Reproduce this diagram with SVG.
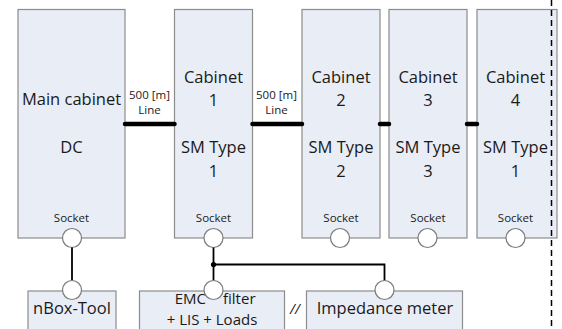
<svg xmlns="http://www.w3.org/2000/svg" width="562" height="329" viewBox="0 0 562 329">
  <style>
    .box { fill: #e9edf6; stroke: #8c8c8c; stroke-width: 1.2; }
    .sock { fill: #ffffff; stroke: #7a7a7a; stroke-width: 1.2; }
    .t { font-family: "Open Sans", "Liberation Sans", sans-serif; fill: #1a1a1a; text-anchor: middle; }
    .big { font-size: 16.5px; }
    .mid { font-size: 15px; }
    .sm { font-size: 11.5px; }
    .bus { stroke: #000; stroke-width: 4.5; stroke-linecap: round; fill: none; }
    .wire { stroke: #000; stroke-width: 1.8; fill: none; }
  </style>

  <rect width="562" height="329" fill="#ffffff"/>

  <!-- cabinets -->
  <g id="main-cabinet">
    <rect class="box" x="18" y="9.5" width="107" height="228.5"/>
    <text class="t big" x="71.5" y="104.5">Main cabinet</text>
    <text class="t big" x="71.5" y="153">DC</text>
    <text class="t sm" x="71.5" y="222">Socket</text>
    <circle class="sock" cx="72" cy="238" r="9.5"/>
  </g>

  <g id="cabinet-1">
    <rect class="box" x="174.5" y="9.5" width="78" height="228.5"/>
    <text class="t big" x="213.5" y="83">Cabinet</text>
    <text class="t big" x="213.5" y="106">1</text>
    <text class="t big" x="213.5" y="153">SM Type</text>
    <text class="t big" x="213.5" y="176.5">1</text>
    <text class="t sm" x="213.5" y="222">Socket</text>
    <circle class="sock" cx="213.5" cy="238" r="9.5"/>
  </g>

  <g id="cabinet-2">
    <rect class="box" x="302" y="9.5" width="78" height="228.5"/>
    <text class="t big" x="341" y="83">Cabinet</text>
    <text class="t big" x="341" y="106">2</text>
    <text class="t big" x="341" y="153">SM Type</text>
    <text class="t big" x="341" y="176.5">2</text>
    <text class="t sm" x="341" y="222">Socket</text>
    <circle class="sock" cx="340" cy="238" r="9.5"/>
  </g>

  <g id="cabinet-3">
    <rect class="box" x="389" y="9.5" width="78" height="228.5"/>
    <text class="t big" x="428" y="83">Cabinet</text>
    <text class="t big" x="428" y="106">3</text>
    <text class="t big" x="428" y="153">SM Type</text>
    <text class="t big" x="428" y="176.5">3</text>
    <text class="t sm" x="428" y="222">Socket</text>
    <circle class="sock" cx="427.5" cy="238" r="9.5"/>
  </g>

  <g id="cabinet-4">
    <rect class="box" x="477" y="9.5" width="80" height="228.5"/>
    <text class="t big" x="515.5" y="83">Cabinet</text>
    <text class="t big" x="515.5" y="106">4</text>
    <text class="t big" x="515.5" y="153">SM Type</text>
    <text class="t big" x="515.5" y="176.5">1</text>
    <text class="t sm" x="515.5" y="222">Socket</text>
    <circle class="sock" cx="515.5" cy="238" r="9.5"/>
  </g>

  <!-- cut-off boundary -->
  <line x1="551.5" y1="0" x2="551.5" y2="329" stroke="#000" stroke-width="1.5" stroke-dasharray="6 4"/>

  <!-- connectors -->
  <g id="connectors">
    <line class="bus" x1="125" y1="124" x2="174.5" y2="124"/>
    <line class="bus" x1="252.5" y1="124" x2="302" y2="124"/>
    <line class="bus" x1="380" y1="124" x2="389" y2="124"/>
    <line class="bus" x1="467" y1="124" x2="477" y2="124"/>
    <text class="t sm" x="149.5" y="98.5">500 [m]</text>
    <text class="t sm" x="149.5" y="113.5">Line</text>
    <text class="t sm" x="276.5" y="98.5">500 [m]</text>
    <text class="t sm" x="276.5" y="113.5">Line</text>

    <line class="wire" x1="72" y1="247.5" x2="72" y2="281"/>
    <line class="wire" x1="213.5" y1="247.5" x2="213.5" y2="281"/>
    <polyline class="wire" points="213.5,264.5 384.5,264.5 384.5,281"/>
    <circle cx="213.5" cy="264.5" r="2.6" fill="#000"/>
  </g>

  <!-- test equipment -->
  <g id="nbox-tool">
    <rect class="box" x="28" y="291" width="88" height="45"/>
    <text class="t big" x="72" y="314">nBox-Tool</text>
    <circle class="sock" cx="72" cy="290" r="9.5"/>
  </g>

  <g id="emc-filter">
    <rect class="box" x="139.5" y="291" width="145" height="45"/>
    <text class="t mid" x="206" y="303.5" style="text-anchor:end">EMC</text>
    <text class="t mid" x="223" y="303.5" style="text-anchor:start">filter</text>
    <text class="t mid" x="212" y="324.8">+ LIS + Loads</text>
    <circle class="sock" cx="213.5" cy="290" r="9.5"/>
  </g>

  <text class="t" x="295" y="314" font-style="italic" style="font-size:14px">//</text>

  <g id="impedance-meter">
    <rect class="box" x="306.5" y="291" width="156" height="45"/>
    <text class="t big" x="385" y="314">Impedance meter</text>
    <circle class="sock" cx="384.5" cy="290" r="9.5"/>
  </g>
</svg>
